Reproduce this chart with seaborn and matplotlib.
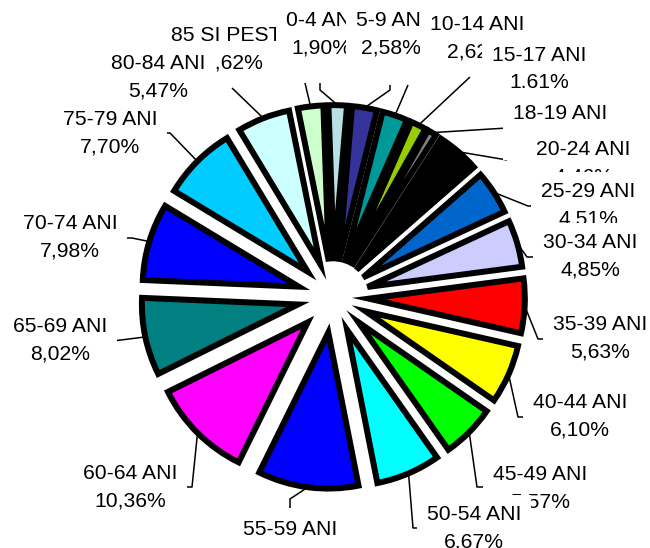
import matplotlib
matplotlib.use("Agg")
import matplotlib.pyplot as plt
import seaborn as sns
import numpy as np

# ---------------- data ----------------
categories = ["0-4 ANI", "5-9 ANI", "10-14 ANI", "15-17 ANI", "18-19 ANI", "20-24 ANI",
              "25-29 ANI", "30-34 ANI", "35-39 ANI", "40-44 ANI", "45-49 ANI", "50-54 ANI",
              "55-59 ANI", "60-64 ANI", "65-69 ANI", "70-74 ANI", "75-79 ANI", "80-84 ANI",
              "85 SI PESTE"]
shares = [1.90, 2.58, 2.62, 1.61, 0.95, 4.46, 4.51, 4.85, 5.63, 6.10, 5.57, 6.67,
          10.40, 10.36, 8.02, 7.98, 7.70, 5.47, 2.62]
pct_labels = ["1,90%", "2,58%", "2,62%", "1.61%", "0,95%", "4,46%", "4,51%", "4,85%",
              "5,63%", "6,10%", "5,57%", "6,67%", "10,40%", "10,36%", "8,02%", "7,98%",
              "7,70%", "5,47%", "2,62%"]

# ---------------- style / layout ----------------
colors = ["#B9E1E4", "#333399", "#009999", "#99CC00", "#808080", "#000000",
          "#0066CC", "#CCCCFF", "#FF0000", "#FFFF00", "#00FF00", "#00FFFF",
          "#0000FF", "#FF00FF", "#008080", "#0000FF", "#00CCFF", "#CCFFFF",
          "#CCFFCC"]

# label block centres (pixels)
label_pos = [(321, 34), (391, 34), (477, 38), (539, 69), (560, 127), (583, 163),
             (588, 205), (590, 256), (600, 338), (580, 416), (540, 488), (474, 528),
             (290, 543), (130, 487), (60, 340), (70, 237), (110, 133), (158, 77),
             (233, 49)]
# leader polyline points on the label side (pixels); wedge end is computed
leader_pts = [[(320, 83), (320, 90)], [(390, 85), (390, 90)], [(408, 85)], [(470, 77)],
              [(507, 128)], [(507, 160)], [(535, 206), (528, 206)], [(537, 257), (527, 257)],
              [(547, 339), (538, 339)], [(527, 417), (518, 417)], [(485, 487), (477, 487)],
              [(420, 528), (413, 528)], [(290, 508), (290, 499)], [(183, 487), (192, 487)],
              [(113, 341)], [(122, 238), (132, 238)], [(162, 133), (170, 133)],
              [(232, 88)], [(305, 83)]]

sns.set_theme(style="white")
plt.rcParams["font.family"] = ["Liberation Sans", "DejaVu Sans"]

W, H, DPI = 650, 548, 100
CX, CY, S = 333, 297, 156
EXPLODE = 0.23

fig = plt.figure(figsize=(W / DPI, H / DPI), dpi=DPI)
fig.patch.set_facecolor("white")
ax = fig.add_axes([0, 0, 1, 1])

wedges, _ = ax.pie(shares, colors=colors, startangle=92, counterclock=False,
                   explode=[EXPLODE] * len(shares), radius=1.0,
                   wedgeprops=dict(edgecolor="black", linewidth=4.3, joinstyle="miter"))

ax.set_xlim(-CX / S, (W - CX) / S)
ax.set_ylim(-(H - CY) / S, CY / S)
ax.set_aspect("equal")
ax.axis("off")


def px(x, y):
    return ((x - CX) / S, (CY - y) / S)


n = len(shares)
for i, w in enumerate(wedges):
    mid = np.deg2rad((w.theta1 + w.theta2) / 2.0)
    cx, cy = w.center
    arc = (cx + w.r * np.cos(mid), cy + w.r * np.sin(mid))
    pts = [px(*p) for p in leader_pts[i]] + [arc]
    xs, ys = zip(*pts)
    ax.plot(xs, ys, color="black", lw=1.1, zorder=3, solid_capstyle="butt")

    z = i + 2 if i <= 11 else n - i
    lx, ly = px(*label_pos[i])
    ax.text(lx, ly, f"{categories[i]}\n{pct_labels[i]}", ha="center", va="center",
            fontsize=15.2, linespacing=1.55, color="black", zorder=10 + z,
            bbox=dict(boxstyle="square,pad=0.45", fc="white", ec="none"))

fig.savefig("out.png", dpi=DPI, facecolor="white")
